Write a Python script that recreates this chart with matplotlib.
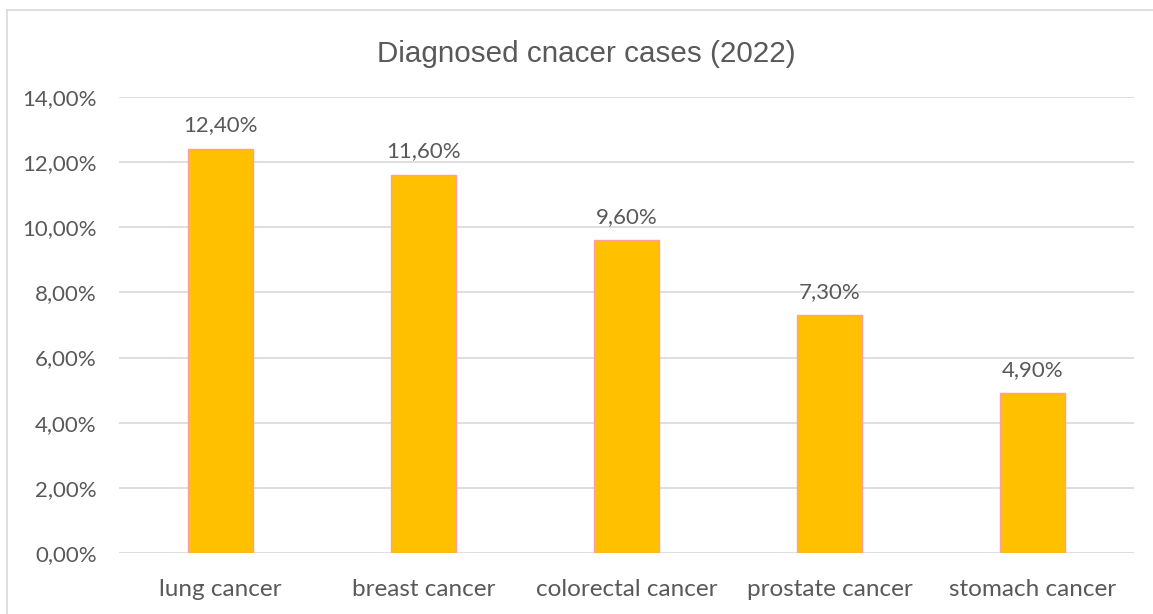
import matplotlib
matplotlib.use("Agg")
import matplotlib.pyplot as plt
from matplotlib.lines import Line2D
from matplotlib.ticker import FuncFormatter

categories = ["lung cancer", "breast cancer", "colorectal cancer", "prostate cancer", "stomach cancer"]
shares = [0.124, 0.116, 0.096, 0.073, 0.049]
title = "Diagnosed cnacer cases (2022)"

text_color = "#595959"
grid_color = "#d9d9d9"

fig = plt.figure(figsize=(11.53, 6.14), dpi=100)
fig.patch.set_facecolor("white")

# chart frame (left and top edges visible)
fig.add_artist(Line2D([7 / 1153, 7 / 1153], [0, 1 - 10 / 614], transform=fig.transFigure,
                      color=grid_color, lw=1.2))
fig.add_artist(Line2D([7 / 1153, 1], [1 - 10 / 614, 1 - 10 / 614], transform=fig.transFigure,
                      color=grid_color, lw=1.2))

ax = fig.add_axes([119 / 1153, 1 - 553 / 614, (1134 - 119) / 1153, (553 - 97) / 614])

x = range(len(categories))
bars = ax.bar(x, shares, width=0.32, color="#FFC000", edgecolor="#FF9E9E", linewidth=1.0, zorder=3)

ax.set_xlim(-0.5, len(categories) - 0.5)
ax.set_ylim(0, 0.14)
ax.set_yticks([i * 0.02 for i in range(8)])


def pct(v, _pos=None):
    return f"{v * 100:.2f}%".replace(".", ",")


ax.yaxis.set_major_formatter(FuncFormatter(pct))
ax.set_xticks(list(x))
ax.set_xticklabels(categories)

ax.grid(axis="y", color=grid_color, lw=1.2, zorder=0)
ax.set_axisbelow(True)
for s in ax.spines.values():
    s.set_visible(False)
ax.tick_params(axis="both", length=0, colors=text_color)
ax.tick_params(axis="y", pad=16, labelsize=16)
ax.tick_params(axis="x", pad=19, labelsize=17.5)
for lbl in ax.get_xticklabels() + ax.get_yticklabels():
    lbl.set_fontfamily("Lato")
    lbl.set_color(text_color)

for b, v in zip(bars, shares):
    ax.annotate(pct(v), (b.get_x() + b.get_width() / 2, v), xytext=(0, 17),
                textcoords="offset points", ha="center", va="center",
                fontsize=16, color=text_color, family="Lato")

fig.text((379 + 793) / 2 / 1153, 1 - 54 / 614, title, ha="center", va="center",
         fontsize=21.3, color=text_color, family="Liberation Sans")

fig.savefig("out.png", dpi=100)
